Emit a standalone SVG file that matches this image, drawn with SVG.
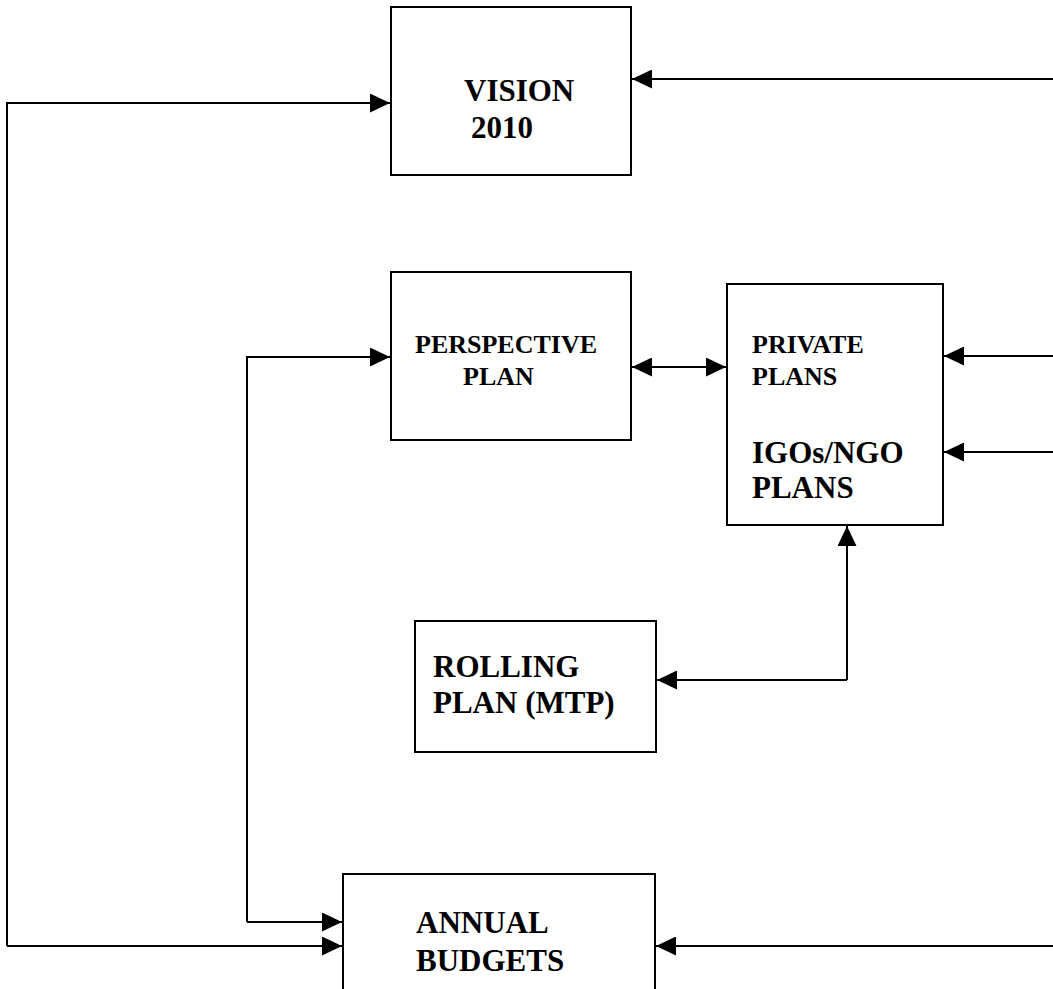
<svg xmlns="http://www.w3.org/2000/svg" width="1053" height="989" viewBox="0 0 1053 989">
<style>
.box{fill:#fff;stroke:#000;stroke-width:2}
.ln{fill:none;stroke:#000;stroke-width:2}
.t{font-family:"Liberation Serif","Times New Roman",serif;font-weight:bold;fill:#000}
.big{font-size:31px}
.sm{font-size:26px}
</style>
<defs>
<marker id="ah" viewBox="0 0 20 19" refX="20" refY="9.5" markerWidth="20" markerHeight="19" markerUnits="userSpaceOnUse" orient="auto-start-reverse">
<path d="M0,0 L20,9.5 L0,19 z" fill="#000"/>
</marker>
</defs>
<rect width="1053" height="989" fill="#fff"/>
<g id="connectors">
<path class="ln" d="M1053,79 H632" marker-end="url(#ah)"/>
<path class="ln" d="M7,946 V103 H390" marker-end="url(#ah)"/>
<path class="ln" d="M7,946 H342" marker-end="url(#ah)"/>
<path class="ln" d="M247,922 V357 H390" marker-end="url(#ah)"/>
<path class="ln" d="M247,922 H342" marker-end="url(#ah)"/>
<path class="ln" d="M632,367 H726" marker-start="url(#ah)" marker-end="url(#ah)"/>
<path class="ln" d="M1053,356 H944" marker-end="url(#ah)"/>
<path class="ln" d="M1053,452 H944" marker-end="url(#ah)"/>
<path class="ln" d="M847,680 V526" marker-end="url(#ah)"/>
<path class="ln" d="M847,680 H657" marker-end="url(#ah)"/>
<path class="ln" d="M1053,946 H656" marker-end="url(#ah)"/>
</g>
<g id="vision">
<rect class="box" x="391" y="7" width="240" height="168"/>
<text class="t big" x="464" y="101">VISION</text>
<text class="t big" x="471" y="138">2010</text>
</g>
<g id="perspective">
<rect class="box" x="391" y="272" width="240" height="168"/>
<text class="t sm" x="415" y="353">PERSPECTIVE</text>
<text class="t sm" x="463" y="385">PLAN</text>
</g>
<g id="private">
<rect class="box" x="727" y="284" width="216" height="241"/>
<text class="t sm" x="752" y="353">PRIVATE</text>
<text class="t sm" x="752" y="385">PLANS</text>
<text class="t big" x="752" y="463">IGOs/NGO</text>
<text class="t big" x="752" y="498">PLANS</text>
</g>
<g id="rolling">
<rect class="box" x="415" y="621" width="241" height="131"/>
<text class="t big" x="433" y="677">ROLLING</text>
<text class="t big" x="433" y="713">PLAN (MTP)</text>
</g>
<g id="annual">
<rect class="box" x="343" y="874" width="312" height="130"/>
<text class="t big" x="416" y="933">ANNUAL</text>
<text class="t big" x="416" y="971">BUDGETS</text>
</g>
</svg>
